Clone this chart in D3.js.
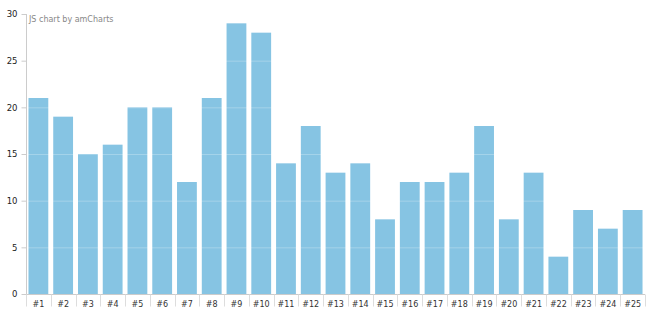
<!DOCTYPE html>
<html><head><meta charset="utf-8">
<script src="https://cdn.jsdelivr.net/npm/d3@7"></script>
<style>body{margin:0;background:#fff}svg{display:block}text{font-family:Verdana,"DejaVu Sans",sans-serif}</style>
</head><body><svg id="c" width="658" height="313"></svg>
<script>
const categories = ["#1","#2","#3","#4","#5","#6","#7","#8","#9","#10","#11","#12","#13","#14","#15","#16","#17","#18","#19","#20","#21","#22","#23","#24","#25"];
const values = [21,19,15,16,20,20,12,21,29,28,14,18,13,14,8,12,12,13,18,8,13,4,9,7,9];
const yTicks = [0,5,10,15,20,25,30];

const svg = d3.select("#c");
const m = {l:26, r:13, t:14, b:19};
const W = 658, H = 313;
const x = d3.scaleBand().domain(categories).range([m.l, W - m.r]).paddingInner(0.2).paddingOuter(0.1);
const y = d3.scaleLinear().domain([0,30]).range([H - m.b, m.t]);

// bars
svg.append("g").selectAll("rect").data(values).join("rect")
  .attr("x", (d,i) => x(categories[i]))
  .attr("y", d => y(d))
  .attr("width", x.bandwidth())
  .attr("height", d => y(0) - y(d))
  .attr("fill", "#86c4e3");

// grid lines
svg.append("g").selectAll("line").data(yTicks.filter(t => t > 0)).join("line")
  .attr("x1", m.l).attr("x2", W - m.r)
  .attr("y1", d => y(d) + 0.5).attr("y2", d => y(d) + 0.5)
  .attr("stroke", "#ffffff").attr("stroke-opacity", 0.25);

// y axis
const ya = svg.append("g").attr("transform", `translate(${m.l + 0.5},0)`)
  .call(d3.axisLeft(y).tickValues(yTicks).tickSize(5).tickPadding(4));
ya.select(".domain").attr("stroke", "#cccccc").attr("d", `M0,${y(30)}V${y(0)}`);
ya.selectAll(".tick line").attr("stroke", "#cccccc");
ya.selectAll(".tick text").attr("font-size", 8.5).attr("fill", "#222").attr("font-family", "Verdana, 'DejaVu Sans', sans-serif");

// x axis
const step = x.step();
const xa = svg.append("g").attr("transform", `translate(0,${y(0) + 0.5})`)
  .call(d3.axisBottom(x).tickSize(0).tickPadding(5));
xa.select(".domain").attr("stroke", "#cccccc").attr("d", `M${m.l},0H${W - m.r}`);
xa.selectAll(".tick text").attr("font-size", 8).attr("fill", "#333").attr("dy", "0.9em").attr("font-family", "Verdana, 'DejaVu Sans', sans-serif");
// category boundary ticks
const bounds = d3.range(categories.length + 1).map(i => m.l + i * (W - m.r - m.l) / categories.length);
xa.append("g").selectAll("line").data(bounds).join("line")
  .attr("x1", d => Math.round(d) + 0.5).attr("x2", d => Math.round(d) + 0.5)
  .attr("y1", 0).attr("y2", 12).attr("stroke", "#dddddd");

// credit
svg.append("text").attr("x", 29).attr("y", 22).attr("font-size", 8).attr("fill", "#888")
  .text("JS chart by amCharts");
</script></body></html>
